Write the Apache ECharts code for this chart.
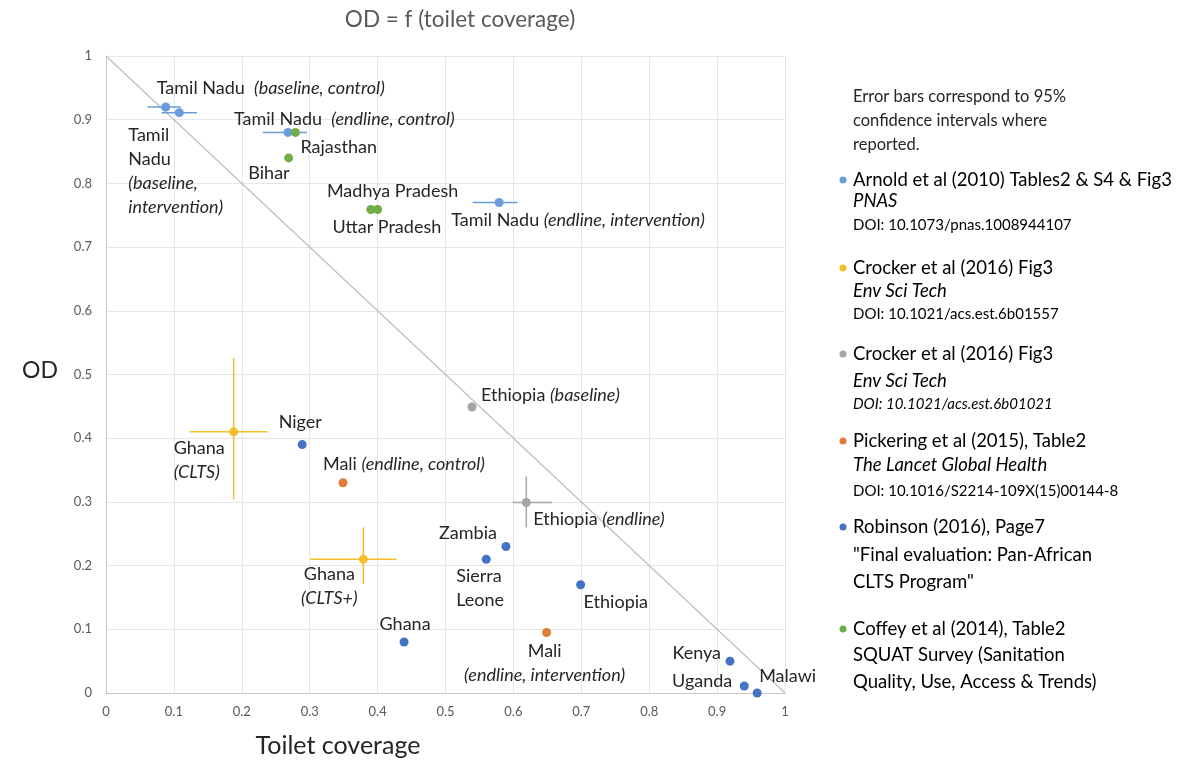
<!DOCTYPE html>
<html><head><meta charset="utf-8">
<script src="https://cdn.jsdelivr.net/npm/echarts@6/dist/echarts.min.js"></script>
<style>html,body{margin:0;padding:0;background:#fff}#c{width:1181px;height:763px}</style>
</head><body><div id="c"></div>
<script>
// ---------------- DATA ----------------
const arnoldNames = ['Tamil Nadu (baseline, control)', 'Tamil Nadu (baseline, intervention)', 'Tamil Nadu (endline, control)', 'Tamil Nadu (endline, intervention)'];
const arnoldX = [0.088, 0.108, 0.268, 0.579];
const arnoldY = [0.920, 0.911, 0.880, 0.770];
const arnoldXLow = [0.061, 0.082, 0.231, 0.540];
const arnoldXHigh = [0.110, 0.134, 0.296, 0.606];

const crockerCltsNames = ['Ghana (CLTS)', 'Ghana (CLTS+)'];
const crockerCltsX = [0.188, 0.379];
const crockerCltsY = [0.410, 0.210];
const crockerCltsXLow = [0.123, 0.301];
const crockerCltsXHigh = [0.238, 0.428];
const crockerCltsYLow = [0.304, 0.171];
const crockerCltsYHigh = [0.526, 0.260];

const crockerEthNames = ['Ethiopia (baseline)', 'Ethiopia (endline)'];
const crockerEthX = [0.539, 0.619];
const crockerEthY = [0.449, 0.299];
const crockerEthXLow = [null, 0.599];
const crockerEthXHigh = [null, 0.657];
const crockerEthYLow = [null, 0.260];
const crockerEthYHigh = [null, 0.340];

const pickeringNames = ['Mali (endline, control)', 'Mali (endline, intervention)'];
const pickeringX = [0.349, 0.649];
const pickeringY = [0.330, 0.095];

const robinsonNames = ['Niger', 'Zambia', 'Sierra Leone', 'Ethiopia', 'Ghana', 'Kenya', 'Uganda', 'Malawi'];
const robinsonX = [0.289, 0.589, 0.560, 0.699, 0.439, 0.919, 0.940, 0.959];
const robinsonY = [0.390, 0.230, 0.210, 0.170, 0.080, 0.050, 0.011, 0.000];

const coffeyNames = ['Rajasthan', 'Bihar', 'Madhya Pradesh', 'Uttar Pradesh'];
const coffeyX = [0.279, 0.269, 0.400, 0.390];
const coffeyY = [0.880, 0.840, 0.759, 0.759];

const parityLine = [[0, 1], [1, 0]];

const titleText = 'OD = f (toilet coverage)';
const xAxisTitle = 'Toilet coverage';
const yAxisTitle = 'OD';
const noteLines = ['Error bars correspond to 95%', 'confidence intervals where', 'reported.'];

// ---------------- LABEL LAYOUT (offset from point, alignment, rich text) ----------------
const arnoldLabels = [
  [-9, -19, 'left', 'middle', 'Tamil Nadu  {i|(baseline, control)}'],
  [-51, 10, 'left', 'top', 'Tamil\nNadu\n{i|(baseline,}\n{i|intervention)}'],
  [-54, -13, 'left', 'middle', 'Tamil Nadu  {i|(endline, control)}'],
  [-48, 18, 'left', 'middle', 'Tamil Nadu {i|(endline, intervention)}']
];
const crockerCltsLabels = [
  [-60, 4, 'left', 'top', 'Ghana\n{i|(CLTS)}'],
  [-34, 3, 'center', 'top', 'Ghana\n{i|(CLTS+)}']
];
const crockerEthLabels = [
  [9, -12, 'left', 'middle', 'Ethiopia {i|(baseline)}'],
  [7, 17, 'left', 'middle', 'Ethiopia {i|(endline)}']
];
const pickeringLabels = [
  [-20, -19, 'left', 'middle', 'Mali {i|(endline, control)}'],
  [-2, 7, 'center', 'top', 'Mali\n{i|(endline, intervention)}']
];
const robinsonLabels = [
  [-2, -22, 'center', 'middle', 'Niger'],
  [-9, -13, 'right', 'middle', 'Zambia'],
  [-30, 5, 'left', 'top', 'Sierra\nLeone'],
  [3, 17, 'left', 'middle', 'Ethiopia'],
  [1, -18, 'center', 'middle', 'Ghana'],
  [-9, -8, 'right', 'middle', 'Kenya'],
  [-12, -5, 'right', 'middle', 'Uganda'],
  [2, -17, 'left', 'middle', 'Malawi']
];
const coffeyLabels = [
  [5, 15, 'left', 'middle', 'Rajasthan'],
  [1, 15, 'right', 'middle', 'Bihar'],
  [15, -18, 'center', 'middle', 'Madhya Pradesh'],
  [16, 18, 'center', 'middle', 'Uttar Pradesh']
];

// legend (text content + vertical position of each line)
const legendEntries = [
  { color: '#6a9cdc', y: 180, lines: [['n', 'Arnold et al (2010) Tables2 & S4 & Fig3', 0], ['i', 'PNAS', 21], ['s', 'DOI: 10.1073/pnas.1008944107', 45]] },
  { color: '#f4be2c', y: 268, lines: [['n', 'Crocker et al (2016) Fig3', 0], ['i', 'Env Sci Tech', 23], ['s', 'DOI: 10.1021/acs.est.6b01557', 46]] },
  { color: '#a5a5a5', y: 354, lines: [['n', 'Crocker et al (2016) Fig3', 0], ['i', 'Env Sci Tech', 27], ['si', 'DOI: 10.1021/acs.est.6b01021', 50]] },
  { color: '#e07b39', y: 441, lines: [['n', 'Pickering et al (2015), Table2', 0], ['i', 'The Lancet Global Health', 24], ['s', 'DOI: 10.1016/S2214-109X(15)00144-8', 50]] },
  { color: '#4472c4', y: 527, lines: [['n', 'Robinson (2016), Page7', 0], ['n', '"Final evaluation: Pan-African', 28], ['n', 'CLTS Program"', 55]] },
  { color: '#70ad47', y: 629, lines: [['n', 'Coffey et al (2014), Table2', 0], ['n', 'SQUAT Survey (Sanitation', 26], ['n', 'Quality, Use, Access & Trends)', 53]] }
];

// ---------------- BUILD ----------------
const FONT = 'Lato';
const TXT = '#262626';
const LBL = 18;
const richStyles = {
  i: { fontStyle: 'italic', fontFamily: FONT, fontSize: LBL, color: TXT, lineHeight: 24 }
};

function points(xs, ys, names, layout) {
  return xs.map((x, i) => ({
    value: [x, ys[i]],
    name: names[i],
    label: {
      show: true,
      position: 'inside',
      formatter: layout[i][4],
      offset: [layout[i][0], layout[i][1]],
      align: layout[i][2],
      verticalAlign: layout[i][3]
    }
  }));
}

function scatter(name, color, data) {
  return {
    type: 'scatter', name: name, symbolSize: 9, z: 4,
    itemStyle: { color: color, opacity: 1 },
    label: { fontFamily: FONT, fontSize: LBL, color: TXT, lineHeight: 24, rich: richStyles },
    emphasis: { disabled: true },
    data: data
  };
}

function errData(xs, ys, xl, xh, yl, yh) {
  const f = v => (v === null || v === undefined) ? '-' : v;
  return xs.map((x, i) => [x, ys[i], f(xl && xl[i]), f(xh && xh[i]), f(yl && yl[i]), f(yh && yh[i])]);
}

function errSeries(color, data) {
  return {
    type: 'custom', z: 3, silent: true,
    encode: { x: 0, y: 1 },
    data: data,
    renderItem: function (params, api) {
      const x = api.value(0), y = api.value(1);
      const xl = api.value(2), xh = api.value(3), yl = api.value(4), yh = api.value(5);
      const ch = [];
      const st = { stroke: color, lineWidth: 1.5 };
      if (!isNaN(xl) && !isNaN(xh)) {
        const a = api.coord([xl, y]), b = api.coord([xh, y]);
        ch.push({ type: 'line', shape: { x1: a[0], y1: a[1], x2: b[0], y2: b[1] }, style: st });
      }
      if (!isNaN(yl) && !isNaN(yh)) {
        const a = api.coord([x, yl]), b = api.coord([x, yh]);
        ch.push({ type: 'line', shape: { x1: a[0], y1: a[1], x2: b[0], y2: b[1] }, style: st });
      }
      return { type: 'group', children: ch };
    }
  };
}

const legendGraphics = [];
const legendRich = {
  n: { fontFamily: FONT, fontSize: 18.5, color: TXT },
  i: { fontFamily: FONT, fontSize: 18.5, fontStyle: 'italic', color: TXT },
  s: { fontFamily: FONT, fontSize: 15, color: TXT },
  si: { fontFamily: FONT, fontSize: 15, fontStyle: 'italic', color: TXT }
};
legendEntries.forEach(e => {
  legendGraphics.push({ type: 'circle', shape: { cx: 843, cy: e.y, r: 3.5 }, style: { fill: e.color } });
  e.lines.forEach(l => {
    legendGraphics.push({
      type: 'text', x: 853, y: e.y + l[2],
      style: { text: '{' + l[0] + '|' + l[1] + '}', rich: legendRich, verticalAlign: 'middle', align: 'left' }
    });
  });
});
noteLines.forEach((t, i) => {
  legendGraphics.push({
    type: 'text', x: 853, y: 97 + i * 24,
    style: { text: t, fontFamily: FONT, fontSize: 16.5, fill: TXT, verticalAlign: 'middle', align: 'left' }
  });
});
legendGraphics.push({ type: 'text', x: 460, y: 20, style: { text: titleText, fontFamily: FONT, fontSize: 22.5, fill: '#595959', align: 'center', verticalAlign: 'middle' } });
legendGraphics.push({ type: 'text', x: 338, y: 746, style: { text: xAxisTitle, fontFamily: FONT, fontSize: 25, fill: TXT, align: 'center', verticalAlign: 'middle' } });
legendGraphics.push({ type: 'text', x: 40, y: 371, style: { text: yAxisTitle, fontFamily: FONT, fontSize: 23, fill: TXT, align: 'center', verticalAlign: 'middle' } });

const axisCommon = {
  type: 'value', min: 0, max: 1, interval: 0.1,
  axisLine: { show: true, lineStyle: { color: '#c8c8c8', width: 1 } },
  axisTick: { show: false },
  splitLine: { show: true, lineStyle: { color: '#e6e6e6', width: 1 } },
  axisLabel: { color: '#595959', fontFamily: FONT, fontSize: 13 }
};

const option = {
  backgroundColor: '#ffffff',
  animation: false,
  grid: { left: 106, right: 396, top: 56, bottom: 70, containLabel: false },
  xAxis: Object.assign({}, axisCommon, { axisLabel: Object.assign({}, axisCommon.axisLabel, { margin: 12 }) }),
  yAxis: Object.assign({}, axisCommon, { axisLabel: Object.assign({}, axisCommon.axisLabel, { margin: 14 }) }),
  graphic: legendGraphics,
  series: [
    { type: 'line', data: parityLine, symbol: 'none', silent: true, z: 1, lineStyle: { color: '#b9bdcc', width: 1.2 } },
    errSeries('#6a9cdc', errData(arnoldX, arnoldY, arnoldXLow, arnoldXHigh, null, null)),
    errSeries('#f4be2c', errData(crockerCltsX, crockerCltsY, crockerCltsXLow, crockerCltsXHigh, crockerCltsYLow, crockerCltsYHigh)),
    errSeries('#a5a5a5', errData(crockerEthX, crockerEthY, crockerEthXLow, crockerEthXHigh, crockerEthYLow, crockerEthYHigh)),
    scatter('Arnold et al (2010)', '#6a9cdc', points(arnoldX, arnoldY, arnoldNames, arnoldLabels)),
    scatter('Crocker et al (2016) 6b01557', '#f4be2c', points(crockerCltsX, crockerCltsY, crockerCltsNames, crockerCltsLabels)),
    scatter('Crocker et al (2016) 6b01021', '#a5a5a5', points(crockerEthX, crockerEthY, crockerEthNames, crockerEthLabels)),
    scatter('Pickering et al (2015)', '#e07b39', points(pickeringX, pickeringY, pickeringNames, pickeringLabels)),
    scatter('Robinson (2016)', '#4472c4', points(robinsonX, robinsonY, robinsonNames, robinsonLabels)),
    scatter('Coffey et al (2014)', '#70ad47', points(coffeyX, coffeyY, coffeyNames, coffeyLabels))
  ]
};

const chart = echarts.init(document.getElementById('c'), null, { renderer: 'canvas' });
chart.setOption(option);
</script>
</body></html>
